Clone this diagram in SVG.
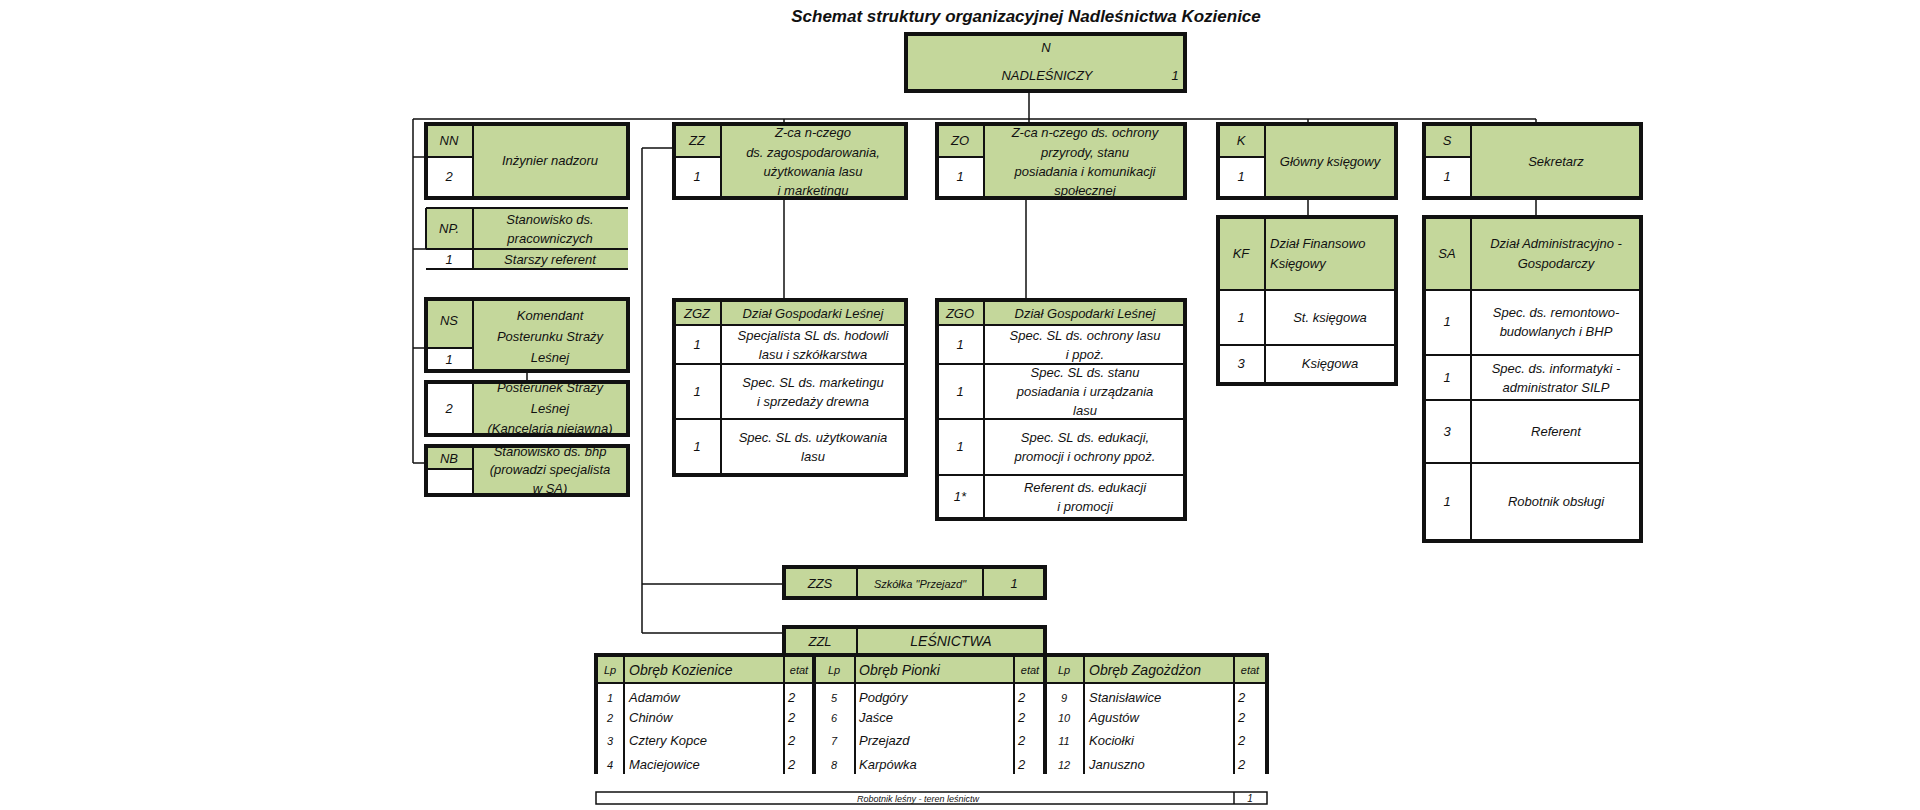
<svg xmlns="http://www.w3.org/2000/svg" width="1920" height="810" viewBox="0 0 1920 810">
<style>
text{font-family:"Liberation Sans Narrow","Liberation Sans",Arial,sans-serif;font-style:italic;font-size:13px;fill:#111;text-anchor:middle}
.t{font-size:17px;font-weight:bold}
.g{fill:#c4d79b}
.w{fill:#fff}
.b{stroke:#111;stroke-width:4;fill:none}
.m{stroke:#111;stroke-width:2;fill:none}
.l{stroke:#111;stroke-width:1.5;fill:none}
.s{text-anchor:start}
.sm{font-size:11px}
</style>
<rect width="1920" height="810" fill="#fff"/>
<text class="t" x="1026" y="22">Schemat struktury organizacyjnej Nadleśnictwa Kozienice</text>
<g id="connectors" class="l">
<path d="M1029 91V119M413 119H1536M784 119V124M1308 119V124M1536 119V124M1029 119V124"/>
<path d="M413 119V463M413 157H426M413 249H426M413 348H426M413 463H426M527 371V382"/>
<path d="M642 148H674M642 148V633M642 584H784M642 633H784"/>
<path d="M784 198V300M1026 198V300M1308 198V217M1536 198V217"/>
</g>
<g id="N"><rect class="g" x="906" y="34" width="279" height="57"/><rect class="b" x="906" y="34" width="279" height="57"/>
<text x="1046" y="52">N</text><text x="1047" y="80">NADLEŚNICZY</text><text x="1175" y="80">1</text></g>
<g id="NN"><rect class="g" x="426" y="124" width="202" height="74"/><rect class="w" x="426" y="157" width="47" height="41"/>
<path class="m" d="M473 124V198M426 157H473"/><rect class="b" x="426" y="124" width="202" height="74"/>
<text x="449" y="145">NN</text><text x="449" y="181">2</text><text x="550" y="165">Inżynier nadzoru</text></g>
<g id="NP"><rect class="g" x="426" y="208" width="202" height="61"/><rect class="w" x="426" y="249" width="47" height="20"/>
<path class="m" d="M426 208H628M426 208V249M473 208V269M426 249H628M426 269H628"/>
<text x="449" y="233">NP.</text><text x="550" y="224">Stanowisko ds.</text><text x="550" y="243">pracowniczych</text>
<text x="449" y="264">1</text><text x="550" y="264">Starszy referent</text></g>
<g id="NS"><rect class="g" x="426" y="299" width="202" height="72"/><rect class="w" x="426" y="348" width="47" height="23"/>
<path class="m" d="M473 299V371M426 348H473"/><rect class="b" x="426" y="299" width="202" height="72"/>
<text x="449" y="325">NS</text><text x="449" y="364">1</text>
<text x="550" y="320">Komendant</text><text x="550" y="341">Posterunku  Straży</text><text x="550" y="362">Leśnej</text></g>
<g id="NK"><rect class="g" x="426" y="382" width="202" height="53"/><rect class="w" x="426" y="382" width="47" height="53"/>
<path class="m" d="M473 382V435"/><rect class="b" x="426" y="382" width="202" height="53"/>
<text x="449" y="413">2</text><text x="550" y="392">Posterunek Straży</text><text x="550" y="413">Leśnej</text><text x="550" y="433">(Kancelaria niejawna)</text></g>
<g id="NB"><rect class="g" x="426" y="446" width="202" height="49"/><rect class="w" x="426" y="469" width="47" height="26"/>
<path class="m" d="M473 446V495M426 469H473"/><rect class="b" x="426" y="446" width="202" height="49"/>
<text x="449" y="463">NB</text><text x="550" y="456">Stanowisko ds. bhp</text><text x="550" y="474">(prowadzi specjalista</text><text x="550" y="493">w SA)</text></g>
<g id="ZZ"><rect class="g" x="674" y="124" width="232" height="74"/><rect class="w" x="674" y="157" width="47" height="41"/>
<path class="m" d="M721 124V198M674 157H721"/><rect class="b" x="674" y="124" width="232" height="74"/>
<text x="697" y="145">ZZ</text><text x="697" y="181">1</text>
<text x="813" y="137">Z-ca n-czego</text><text x="813" y="157">ds. zagospodarowania,</text><text x="813" y="176">użytkowania lasu</text><text x="813" y="195">i marketingu</text></g>
<g id="ZO"><rect class="g" x="937" y="124" width="248" height="74"/><rect class="w" x="937" y="157" width="47" height="41"/>
<path class="m" d="M984 124V198M937 157H984"/><rect class="b" x="937" y="124" width="248" height="74"/>
<text x="960" y="145">ZO</text><text x="960" y="181">1</text>
<text x="1085" y="137">Z-ca n-czego ds. ochrony</text><text x="1085" y="157">przyrody, stanu</text><text x="1085" y="176">posiadania i komunikacji</text><text x="1085" y="195">społecznej</text></g>
<g id="K"><rect class="g" x="1218" y="124" width="178" height="74"/><rect class="w" x="1218" y="157" width="47" height="41"/>
<path class="m" d="M1265 124V198M1218 157H1265"/><rect class="b" x="1218" y="124" width="178" height="74"/>
<text x="1241" y="145">K</text><text x="1241" y="181">1</text><text x="1330" y="166">Główny księgowy</text></g>
<g id="S"><rect class="g" x="1424" y="124" width="217" height="74"/><rect class="w" x="1424" y="157" width="47" height="41"/>
<path class="m" d="M1471 124V198M1424 157H1471"/><rect class="b" x="1424" y="124" width="217" height="74"/>
<text x="1447" y="145">S</text><text x="1447" y="181">1</text><text x="1556" y="166">Sekretarz</text></g>
<g id="ZGZ"><rect class="w" x="674" y="300" width="232" height="175"/><rect class="g" x="674" y="300" width="232" height="25"/>
<path class="m" d="M721 300V475M674 325H906M674 364H906M674 419H906"/><rect class="b" x="674" y="300" width="232" height="175"/>
<text x="697" y="318">ZGZ</text><text x="813" y="318">Dział Gospodarki Leśnej</text>
<text x="697" y="349">1</text><text x="813" y="340">Specjalista SL  ds. hodowli</text><text x="813" y="359">lasu i szkółkarstwa</text>
<text x="697" y="396">1</text><text x="813" y="387">Spec. SL ds. marketingu</text><text x="813" y="406">i sprzedaży drewna</text>
<text x="697" y="451">1</text><text x="813" y="442">Spec. SL ds. użytkowania</text><text x="813" y="461">lasu</text></g>
<g id="ZGO"><rect class="w" x="937" y="300" width="248" height="219"/><rect class="g" x="937" y="300" width="248" height="25"/>
<path class="m" d="M984 300V519M937 325H1185M937 364H1185M937 419H1185M937 475H1185"/><rect class="b" x="937" y="300" width="248" height="219"/>
<text x="960" y="318">ZGO</text><text x="1085" y="318">Dział Gospodarki Leśnej</text>
<text x="960" y="349">1</text><text x="1085" y="340">Spec. SL ds. ochrony lasu</text><text x="1085" y="359">i ppoż.</text>
<text x="960" y="396">1</text><text x="1085" y="377">Spec. SL ds. stanu</text><text x="1085" y="396">posiadania i urządzania</text><text x="1085" y="415">lasu</text>
<text x="960" y="451">1</text><text x="1085" y="442">Spec. SL ds. edukacji,</text><text x="1085" y="461">promocji i ochrony  ppoż.</text>
<text x="960" y="501">1*</text><text x="1085" y="492">Referent ds. edukacji</text><text x="1085" y="511">i promocji</text></g>
<g id="KF"><rect class="w" x="1218" y="217" width="178" height="167"/><rect class="g" x="1218" y="217" width="178" height="73"/>
<path class="m" d="M1265 217V384M1218 290H1396M1218 345H1396"/><rect class="b" x="1218" y="217" width="178" height="167"/>
<text x="1241" y="258">KF</text><text class="s" x="1270" y="248">Dział Finansowo</text><text class="s" x="1270" y="268">Księgowy</text>
<text x="1241" y="322">1</text><text x="1330" y="322">St. księgowa</text><text x="1241" y="368">3</text><text x="1330" y="368">Księgowa</text></g>
<g id="SA"><rect class="w" x="1424" y="217" width="217" height="324"/><rect class="g" x="1424" y="217" width="217" height="73"/>
<path class="m" d="M1471 217V541M1424 290H1641M1424 355H1641M1424 400H1641M1424 463H1641"/><rect class="b" x="1424" y="217" width="217" height="324"/>
<text x="1447" y="258">SA</text><text x="1556" y="248">Dział Administracyjno -</text><text x="1556" y="268">Gospodarczy</text>
<text x="1447" y="326">1</text><text x="1556" y="317">Spec. ds. remontowo-</text><text x="1556" y="336">budowlanych i BHP</text>
<text x="1447" y="382">1</text><text x="1556" y="373">Spec. ds. informatyki -</text><text x="1556" y="392">administrator SILP</text>
<text x="1447" y="436">3</text><text x="1556" y="436">Referent</text>
<text x="1447" y="506">1</text><text x="1556" y="506">Robotnik obsługi</text></g>
<g id="ZZS"><rect class="g" x="784" y="567" width="261" height="31"/>
<path class="m" d="M857 567V598M983 567V598"/><rect class="b" x="784" y="567" width="261" height="31"/>
<text x="820" y="588">ZZS</text><text class="sm" x="920" y="588">Szkółka "Przejazd"</text><text x="1014" y="588">1</text></g>
<g id="ZZL"><rect class="g" x="784" y="627" width="261" height="28"/>
<path class="m" d="M857 627V655"/><rect class="b" x="784" y="627" width="261" height="28"/>
<text x="820" y="646">ZZL</text><text x="951" y="646" style="font-size:14px">LEŚNICTWA</text></g>
<g id="lesnictwa"><rect class="w" x="596" y="655" width="671" height="119"/><rect class="g" x="596" y="655" width="671" height="28"/>
<path class="m" d="M596 683H1267M624 655V774M784 655V774M855 655V774M1014 655V774M1084 655V774M1234 655V774"/>
<path class="b" d="M596 774V655H1267V774M814 655V774M1045 655V774"/>
<g class="sm"><text class="sm" x="610" y="674">Lp</text><text class="sm" x="834" y="674">Lp</text><text class="sm" x="1064" y="674">Lp</text>
<text class="sm" x="799" y="674">etat</text><text class="sm" x="1030" y="674">etat</text><text class="sm" x="1250" y="674">etat</text></g>
<text class="s" x="629" y="675" style="font-size:14px">Obręb Kozienice</text><text class="s" x="859" y="675" style="font-size:14px">Obręb Pionki</text><text class="s" x="1089" y="675" style="font-size:14px">Obręb Zagożdżon</text>
<g>
<text class="sm" x="610" y="702">1</text><text class="s" x="629" y="702">Adamów</text><text class="s" x="788" y="702">2</text>
<text class="sm" x="610" y="722">2</text><text class="s" x="629" y="722">Chinów</text><text class="s" x="788" y="722">2</text>
<text class="sm" x="610" y="745">3</text><text class="s" x="629" y="745">Cztery Kopce</text><text class="s" x="788" y="745">2</text>
<text class="sm" x="610" y="769">4</text><text class="s" x="629" y="769">Maciejowice</text><text class="s" x="788" y="769">2</text>
<text class="sm" x="834" y="702">5</text><text class="s" x="859" y="702">Podgóry</text><text class="s" x="1018" y="702">2</text>
<text class="sm" x="834" y="722">6</text><text class="s" x="859" y="722">Jaśce</text><text class="s" x="1018" y="722">2</text>
<text class="sm" x="834" y="745">7</text><text class="s" x="859" y="745">Przejazd</text><text class="s" x="1018" y="745">2</text>
<text class="sm" x="834" y="769">8</text><text class="s" x="859" y="769">Karpówka</text><text class="s" x="1018" y="769">2</text>
<text class="sm" x="1064" y="702">9</text><text class="s" x="1089" y="702">Stanisławice</text><text class="s" x="1238" y="702">2</text>
<text class="sm" x="1064" y="722">10</text><text class="s" x="1089" y="722">Agustów</text><text class="s" x="1238" y="722">2</text>
<text class="sm" x="1064" y="745">11</text><text class="s" x="1089" y="745">Kociołki</text><text class="s" x="1238" y="745">2</text>
<text class="sm" x="1064" y="769">12</text><text class="s" x="1089" y="769">Januszno</text><text class="s" x="1238" y="769">2</text>
</g></g>
<g id="robotnik"><rect x="596" y="792" width="671" height="12" fill="#fff" stroke="#111" stroke-width="1.5"/>
<path class="l" d="M1234 792V804"/>
<text x="918" y="802" style="font-size:9px">Robotnik leśny - teren leśnictw</text><text x="1250" y="802" style="font-size:10px">1</text></g>
</svg>
